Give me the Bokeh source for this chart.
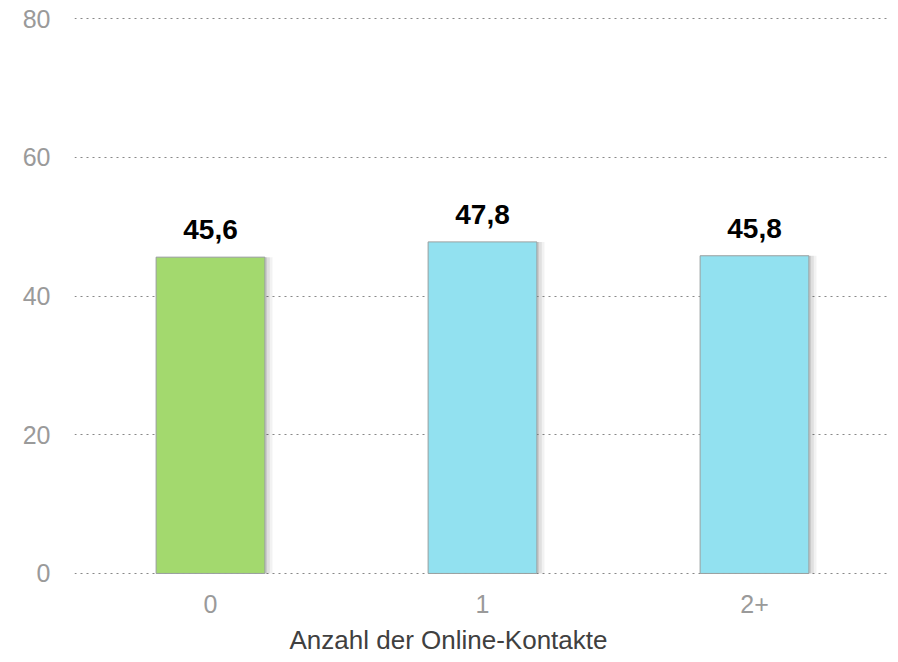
from bokeh.plotting import figure
from bokeh.models import ColumnDataSource, FixedTicker, Range1d, LabelSet, Title
from bokeh.core.properties import value
from bokeh.transform import dodge
from bokeh.embed import file_html
from bokeh.resources import INLINE

categories = ["0", "1", "2+"]
values = [45.6, 47.8, 45.8]
labels = ["45,6", "47,8", "45,8"]
colors = ["#A3D96E", "#92E1F0", "#92E1F0"]
y_ticks = [0, 20, 40, 60, 80]
x_title = "Anzahl der Online-Kontakte"

src = ColumnDataSource(dict(cat=categories, val=values, lab=labels, col=colors))

p = figure(x_range=categories, y_range=Range1d(-0.15, 80.15), width=890, height=662,
           output_backend="svg", toolbar_location=None,
           min_border_left=74, min_border_right=0, min_border_top=17, min_border_bottom=88)
p.outline_line_color = None
p.xgrid.grid_line_color = None
p.ygrid.grid_line_color = "#888888"
p.ygrid.grid_line_dash = "dotted"
p.ygrid.grid_line_width = 1
p.yaxis.ticker = FixedTicker(ticks=y_ticks)

for ax in (p.xaxis[0], p.yaxis[0]):
    ax.axis_line_color = None
    ax.major_tick_line_color = None
    ax.minor_tick_line_color = None
    ax.major_label_text_font = "Liberation Sans"
    ax.major_label_text_font_size = "25px"
    ax.major_label_text_color = "#9a9a9a"
p.yaxis.major_label_standoff = 18
p.xaxis.major_label_standoff = 14

t = Title(text=x_title, align="left", offset=215,
          text_font="Liberation Sans", text_font_size="26px", text_font_style="normal",
          text_color="#404040", standoff=14)
p.add_layout(t, "below")

# soft shadows
for off, a in [(0.014, 0.05), (0.009, 0.07), (0.004, 0.09)]:
    p.vbar(x=dodge("cat", off, range=p.x_range), top="val", width=0.4 + off * 2, source=src,
           fill_color="#000000", fill_alpha=a, line_color=None)

p.vbar(x="cat", top="val", width=0.4, source=src, fill_color="col",
       line_color="#9aa0a0", line_width=1)

p.add_layout(LabelSet(x="cat", y="val", text="lab", source=src, text_align="center",
                      text_baseline="bottom", y_offset=18, text_font=value("Liberation Sans"),
                      text_font_size=value("28px"), text_font_style="bold", text_color="#000000"))

open("out.html", "w").write(file_html(p, INLINE))
